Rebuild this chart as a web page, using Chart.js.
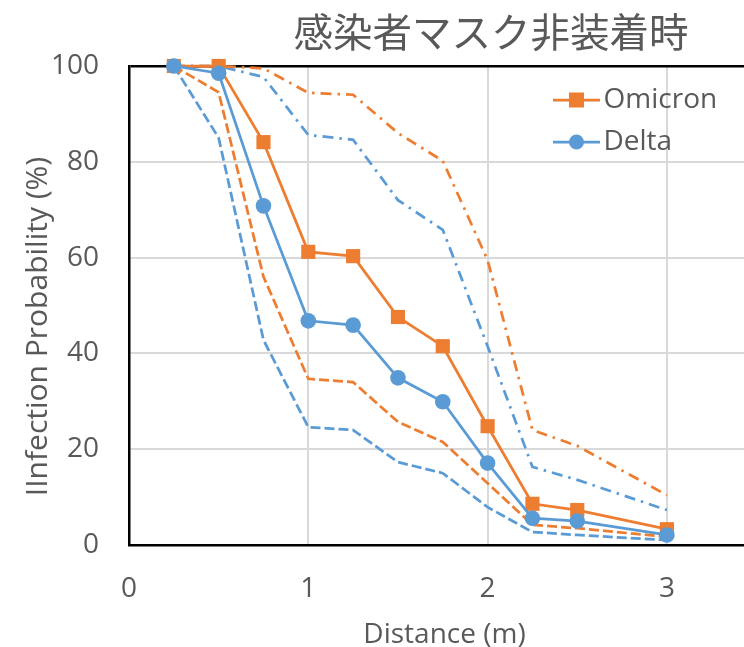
<!DOCTYPE html>
<html>
<head>
<meta charset="utf-8">
<script src="https://cdn.jsdelivr.net/npm/chart.js@4"></script>
<style>
  html, body { margin: 0; padding: 0; background: #ffffff; }
  canvas { display: block; }
</style>
</head>
<body>
<canvas id="c" width="744" height="647"></canvas>
<script>
// ---- data ----
const chartTitle = '感染者マスク非装着時';
const xTitle = 'Distance (m)';
const yTitle = 'IInfection Probability (%)';
const distances   = [0.25, 0.5, 0.75, 1, 1.25, 1.5, 1.75, 2, 2.25, 2.5, 3];
const omicron     = [100, 100, 84.1, 61.2, 60.3, 47.6, 41.5, 24.8, 8.6, 7.3, 3.3];
const delta       = [100, 98.5, 70.8, 46.8, 45.9, 34.9, 29.9, 17.1, 5.6, 5.0, 2.1];
const omicronLow  = [100, 94.5, 56.0, 34.7, 34.0, 25.7, 21.5, 12.9, 4.2, 3.5, 1.7];
const deltaLow    = [100, 85.0, 42.8, 24.6, 24.0, 17.3, 15.0, 7.9, 2.7, 2.1, 1.0];
const omicronHigh = [100, 100, 99.5, 94.4, 94.0, 86.0, 80.2, 59.5, 24.0, 20.7, 10.4];
const deltaHigh   = [100, 100, 97.7, 85.6, 84.6, 72.0, 65.8, 41.5, 16.3, 13.6, 7.3];
const seriesNames = ['Omicron', 'Delta'];
const yTicks = [0, 20, 40, 60, 80, 100];
const xTicks = [0, 1, 2, 3];

// ---- styles ----
const ORANGE = '#ED7D31';
const BLUE = '#5B9BD5';
const TEXT = '#595959';
const GRID = '#d9d9d9';
const FONT = "'Open Sans', 'Noto Sans', sans-serif";

const pts = (ys) => distances.map((x, i) => ({ x, y: ys[i] }));

function makeIcon(color, shape) {
  const c = document.createElement('canvas');
  c.width = 47; c.height = 18;
  const g = c.getContext('2d');
  g.strokeStyle = color; g.lineWidth = 2.75;
  g.beginPath(); g.moveTo(0, 9); g.lineTo(47, 9); g.stroke();
  g.fillStyle = color;
  if (shape === 'rect') { g.fillRect(16, 1.5, 15, 15); }
  else { g.beginPath(); g.arc(23.5, 9, 7.5, 0, Math.PI * 2); g.fill(); }
  return c;
}
const legendIcons = [makeIcon(ORANGE, 'rect'), makeIcon(BLUE, 'circle')];

const tweaks = {
  id: 'tweaks',
  afterLayout(chart) {
    const t = chart.titleBlock;
    if (t) { t.left = 238; t.right = 744; }
    const lg = chart.legend;
    if (lg) { lg.left = 549.5; lg.top = 72; }
    const shift = (scale, dx, dy) => {
      if (scale._titleShifted) return;
      scale._titleShifted = true;
      const orig = scale.drawTitle;
      scale.drawTitle = function () {
        const s = { l: this.left, r: this.right, t: this.top, b: this.bottom };
        this.left += dx; this.right += dx; this.top += dy; this.bottom += dy;
        orig.apply(this, arguments);
        this.left = s.l; this.right = s.r; this.top = s.t; this.bottom = s.b;
      };
    };
    shift(chart.scales.y, -1, 21);
    shift(chart.scales.x, 8, 2);
  }
};

const lineCommon = { tension: 0, clip: false, pointHoverRadius: 0 };

new Chart(document.getElementById('c'), {
  type: 'line',
  data: {
    datasets: [
      { ...lineCommon, label: seriesNames[0], data: pts(omicron), borderColor: ORANGE, backgroundColor: ORANGE,
        borderWidth: 2.75, pointStyle: 'rect', pointRadius: 10, pointBorderWidth: 0, order: 1 },
      { ...lineCommon, label: seriesNames[1], data: pts(delta), borderColor: BLUE, backgroundColor: BLUE,
        borderWidth: 2.75, pointStyle: 'circle', pointRadius: 7.8, pointBorderWidth: 0, order: 0 },
      { ...lineCommon, label: 'Omicron low', data: pts(omicronLow), borderColor: ORANGE, borderWidth: 2.75,
        borderDash: [10, 4], pointRadius: 0, order: 2 },
      { ...lineCommon, label: 'Delta low', data: pts(deltaLow), borderColor: BLUE, borderWidth: 2.75,
        borderDash: [10, 4], pointRadius: 0, order: 2 },
      { ...lineCommon, label: 'Omicron high', data: pts(omicronHigh), borderColor: ORANGE, borderWidth: 2.75,
        borderDash: [11, 6, 2.5, 6], pointRadius: 0, order: 2 },
      { ...lineCommon, label: 'Delta high', data: pts(deltaHigh), borderColor: BLUE, borderWidth: 2.75,
        borderDash: [11, 6, 2.5, 6], pointRadius: 0, order: 2 }
    ]
  },
  options: {
    responsive: false,
    animation: false,
    events: [],
    layout: { padding: 0, autoPadding: false },
    plugins: {
      title: {
        display: true, text: chartTitle, color: TEXT,
        font: { family: "'Noto Sans CJK JP', sans-serif", size: 39.5, weight: 'normal' },
        padding: { top: 8, bottom: 10.6 }
      },
      legend: {
        display: true, position: 'chartArea', align: 'start',
        labels: {
          usePointStyle: true, pointStyleWidth: 26, padding: 14, color: TEXT,
          font: { family: FONT, size: 28 },
          generateLabels(chart) {
            const items = Chart.defaults.plugins.legend.labels.generateLabels(chart);
            items.forEach(it => { if (it.datasetIndex < 2) it.pointStyle = legendIcons[it.datasetIndex]; });
            return items;
          },
          filter: (item) => item.datasetIndex < 2,
          sort: (a, b) => a.datasetIndex - b.datasetIndex
        }
      },
      tooltip: { enabled: false }
    },
    scales: {
      x: {
        type: 'linear', min: 0, max: 3.43,
        afterFit: (s) => { s.height = 102; },
        afterBuildTicks: (s) => { s.ticks = xTicks.map(v => ({ value: v })); },
        ticks: { stepSize: 1, includeBounds: false, padding: 27, color: TEXT, font: { family: FONT, size: 28 } },
        grid: { drawTicks: false, color: (c) => c.tick && c.tick.value === 0 ? '#000' : GRID, lineWidth: 2 },
        border: { display: true, color: '#000', width: 2.5 },
        title: { display: true, text: xTitle, color: TEXT, font: { family: FONT, size: 28, lineHeight: 1 },
                 padding: { top: 0, bottom: 0 } }
      },
      y: {
        min: 0, max: 100,
        afterFit: (s) => { s.width = 129; },
        afterBuildTicks: (s) => { s.ticks = yTicks.map(v => ({ value: v })); },
        ticks: { stepSize: 20, padding: 30, color: TEXT, font: { family: FONT, size: 28 } },
        grid: { drawTicks: false,
                color: (c) => c.tick && (c.tick.value === 100 || c.tick.value === 0) ? '#000' : GRID,
                lineWidth: (c) => c.tick && c.tick.value === 100 ? 2.5 : 2 },
        border: { display: true, color: '#000', width: 2.5 },
        title: { display: true, text: yTitle, color: TEXT, font: { family: FONT, size: 30, lineHeight: 1 },
                 padding: { top: 24, bottom: 0 } }
      }
    }
  },
  plugins: [tweaks]
});
</script>
</body>
</html>
